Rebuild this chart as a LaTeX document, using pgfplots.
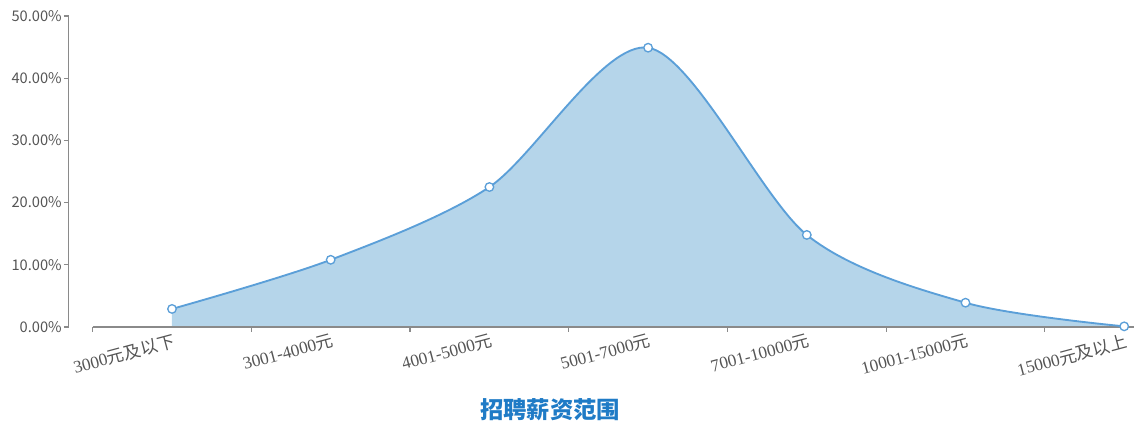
\documentclass[border=0pt]{standalone}
\usepackage{fontspec}
\usepackage{pgfplots}
\pgfplotsset{compat=1.18}
\setmainfont{Liberation Serif}
\newfontfamily\cjk{Noto Sans CJK SC}
\newfontfamily\yh{Noto Sans CJK SC}
\definecolor{areafill}{HTML}{B5D5EA}
\definecolor{lineblue}{HTML}{5B9FD8}
\definecolor{titleblue}{HTML}{1F7BC6}
\definecolor{axisgray}{HTML}{8A8A8A}
\definecolor{labelgray}{HTML}{555555}
\begin{document}
\begin{tikzpicture}
\begin{axis}[
  scale only axis,
  x=119.03pt, y=4.665pt,
  xmin=-0.6512, xmax=6.06,
  ymin=0, ymax=50,
  clip=false,
  axis x line*=bottom, axis y line*=left,
  x axis line style={draw=none},
  y axis line style={axisgray, line width=0.9pt},
  xtick={0,...,6},
  xticklabels={{3000\cjk{元及以下}},{3001-4000\cjk{元}},{4001-5000\cjk{元}},{5001-7000\cjk{元}},{7001-10000\cjk{元}},{10001-15000\cjk{元}},{15000\cjk{元及以上}}},
  minor xtick={-0.5,0.5,...,5.5},
  major x tick style={draw=none},
  minor x tick style={axisgray, line width=0.9pt},
  minor tick length=3.5pt,
  ytick={0,10,...,50},
  yticklabels={0.00\%,10.00\%,20.00\%,30.00\%,40.00\%,50.00\%},
  major y tick style={axisgray, line width=0.9pt},
  major tick length=3.5pt,
  tick align=outside,
  yticklabel style={font=\yh\fontsize{11}{12}\selectfont, text=labelgray, inner sep=1.5pt},
  xticklabel style={rotate=15, anchor=north east, inner sep=0pt, text=labelgray, font=\fontsize{13}{14}\selectfont, yshift=-1pt},
]
% bounding box
\path (axis cs:-1.0838,-15.76) rectangle (axis cs:6.0807,52.57);
% area
\addplot[fill=areafill, draw=none, smooth, tension=0.5] coordinates {
 (0,2.9) (1,10.8) (2,22.5) (3,44.9) (4,14.8) (5,3.9) (6,0.1)
} \closedcycle;
% x axis line
\draw[axisgray, line width=1.4pt] (axis cs:-0.5,0) -- (axis cs:6.06,0);
% line
\addplot[lineblue, line width=1.4pt, smooth, tension=0.5, mark=*, mark size=3.2pt,
  mark options={fill=white, draw=lineblue, line width=1pt}] coordinates {
 (0,2.9) (1,10.8) (2,22.5) (3,44.9) (4,14.8) (5,3.9) (6,0.1)
};
% title
\node[font=\cjk\bfseries\fontsize{17.5}{20}\selectfont, text=titleblue] at (axis cs:2.382,-13.34) {招聘薪资范围};
\end{axis}
\end{tikzpicture}
\end{document}
